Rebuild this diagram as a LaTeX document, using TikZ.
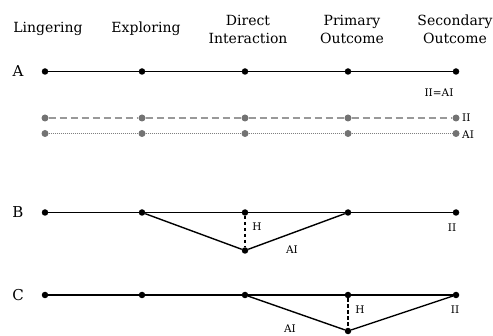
\documentclass[tikz,border=0pt]{standalone}
\usepackage{fontspec}
\setmainfont{DejaVu Serif}
\begin{document}
\begin{tikzpicture}[x=1pt,y=1pt,
 dot/.style={circle,fill=black,inner sep=0pt,minimum size=6.5pt},
 gdot/.style={circle,fill=black!55,inner sep=0pt,minimum size=7pt},
 solidline/.style={line width=1.4pt},
 dashline/.style={line width=1.4pt,black!40,dash pattern=on 7pt off 4pt},
 dotline/.style={line width=0.8pt,black!50,dash pattern=on 0.8pt off 1.2pt},
 vdash/.style={line width=1.1pt,dash pattern=on 3.5pt off 2.5pt},
 hdr/.style={font=\fontsize{14}{18}\selectfont,align=center,inner sep=0pt},
 rowlab/.style={font=\fontsize{15}{16}\selectfont,inner sep=0pt},
 lab/.style={font=\fontsize{10.5}{12}\selectfont,inner sep=0pt}]
\useasboundingbox (0,0) rectangle (493,335);
% headers
\node[hdr] (h1) at (48,306) {Lingering};
\node[hdr] (h2) at (146,306) {Exploring};
\node[hdr] (h3) at (248,306) {Direct\\Interaction};
\node[hdr] (h4) at (352,306) {Primary\\Outcome};
\node[hdr] (h5) at (455,306) {Secondary\\Outcome};
% row labels
\node[rowlab] (rA) at (18,263.5) {A};
\node[rowlab] (rB) at (18,122.5) {B};
\node[rowlab] (rC) at (18,40) {C};
% dots
\foreach \i/\x in {1/45,2/142,3/245,4/348,5/456}{
  \node[dot] (a\i) at (\x,263.5) {};
  \node[gdot] (d\i) at (\x,217) {};
  \node[gdot] (t\i) at (\x,201.5) {};
  \node[dot] (b\i) at (\x,122.5) {};
  \node[dot] (c\i) at (\x,40) {};
}
% row A
\draw[solidline] (a1) -- (a2) -- (a3) -- (a4) -- (a5);
\draw[dashline] (d1) -- (d2) -- (d3) -- (d4) -- (d5);
\draw[dotline] (t1) -- (t2) -- (t3) -- (t4) -- (t5);
\node[lab] (eq) at (439,242) {II=AI};
\node[lab,anchor=west] (lII) at (462,217) {II};
\node[lab,anchor=west] (lAI) at (462,200) {AI};
% row B
\node[dot] (bb) at (245,84.5) {};
\draw[solidline] (b1) -- (b2) -- (b3) -- (b4) -- (b5);
\draw[solidline] (b2) -- (bb) -- (b4);
\draw[vdash] (b3) -- (bb);
\node[lab] (bH) at (257,108) {H};
\node[lab] (bAI) at (292,85) {AI};
\node[lab] (bII) at (452,107) {II};
% row C
\node[dot] (cb) at (348,4) {};
\draw[solidline] (c1) -- (c2) -- (c3) -- (c4) -- (c5);
\draw[solidline] (c3) -- (cb) -- (c5);
\draw[vdash] (c4) -- (cb);
\node[lab] (cH) at (360,25) {H};
\node[lab] (cAI) at (290,6) {AI};
\node[lab] (cII) at (455,25) {II};
\end{tikzpicture}
\end{document}
